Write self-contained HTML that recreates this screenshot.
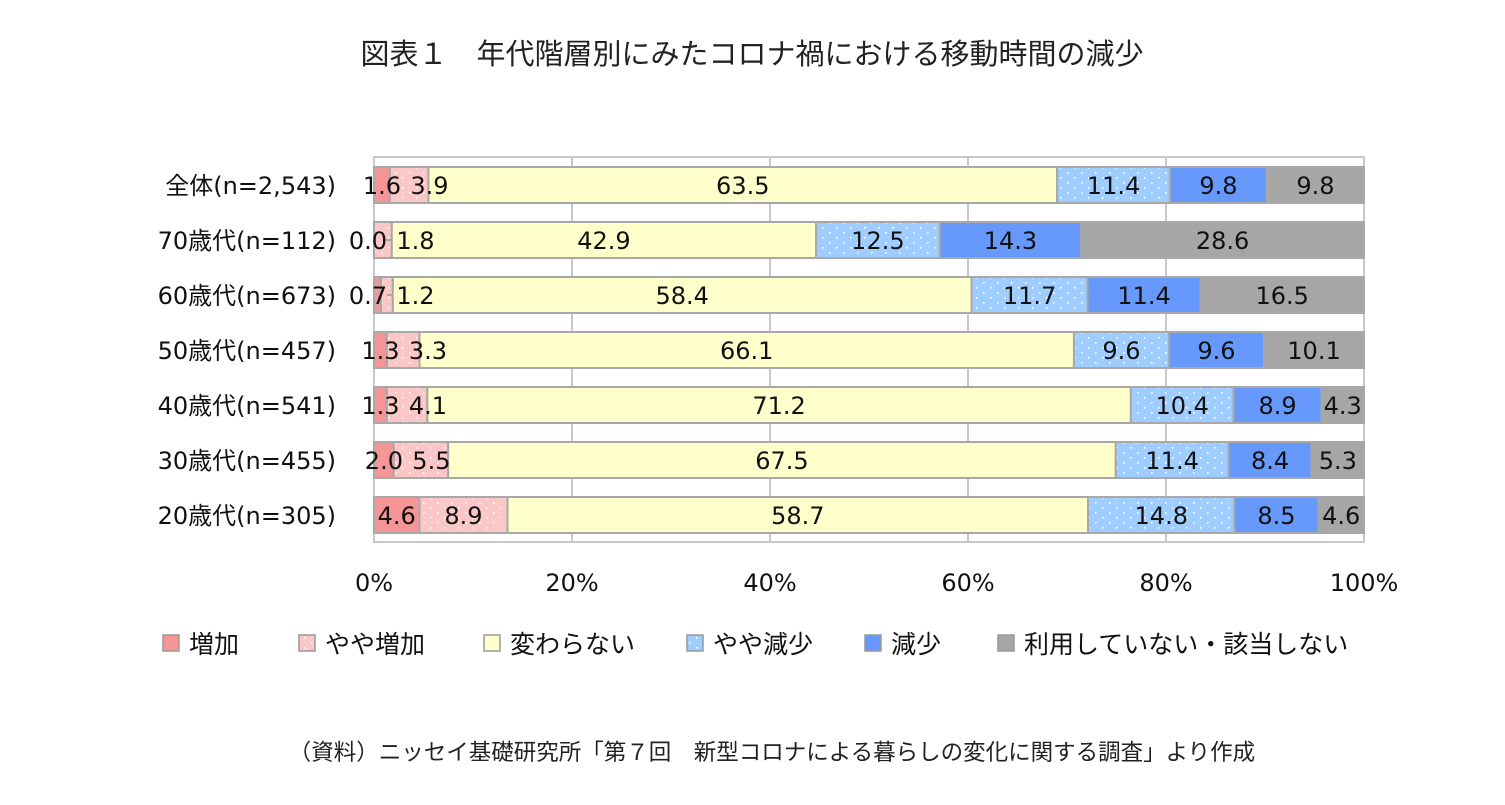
<!DOCTYPE html>
<html><head><meta charset="utf-8">
<style>
body{margin:0;background:#fff;width:1505px;height:805px;overflow:hidden;font-family:"Liberation Sans","Noto Sans CJK JP",sans-serif;}
svg{display:block}
</style></head>
<body>
<svg id="chart" width="1505" height="805" xmlns="http://www.w3.org/2000/svg" font-family="DejaVu Sans, Noto Sans CJK JP, sans-serif">
<text x="752" y="64" text-anchor="middle" font-size="29" fill="#222" font-family="Noto Sans CJK JP, sans-serif">図表１　年代階層別にみたコロナ禍における移動時間の減少</text>
<text x="772" y="760" text-anchor="middle" font-size="22.5" fill="#222" font-family="Noto Sans CJK JP, sans-serif">（資料）ニッセイ基礎研究所「第７回　新型コロナによる暮らしの変化に関する調査」より作成</text>
<g id="plot"></g>
<g id="labels"></g>
<g id="legend"></g>
</svg>
<script>
const categories=["全体(n=2,543)","70歳代(n=112)","60歳代(n=673)","50歳代(n=457)","40歳代(n=541)","30歳代(n=455)","20歳代(n=305)"];
const seriesNames=["増加","やや増加","変わらない","やや減少","減少","利用していない・該当しない"];
const increase=[1.6,0.0,0.7,1.3,1.3,2.0,4.6];
const slightIncrease=[3.9,1.8,1.2,3.3,4.1,5.5,8.9];
const unchanged=[63.5,42.9,58.4,66.1,71.2,67.5,58.7];
const slightDecrease=[11.4,12.5,11.7,9.6,10.4,11.4,14.8];
const decrease=[9.8,14.3,11.4,9.6,8.9,8.4,8.5];
const notApplicable=[9.8,28.6,16.5,10.1,4.3,5.3,4.6];
const xTicks=["0%","20%","40%","60%","80%","100%"];

const series=[increase,slightIncrease,unchanged,slightDecrease,decrease,notApplicable];
const colors=["#f59595","#fbc6c6","#ffffcc","#9fcdff","#6699fb","#a6a6a6"];
const NS="http://www.w3.org/2000/svg";
const X0=374,X1=1364,TOP=157,BOT=542,ROW=55,BH=36;
const xs=p=>X0+(X1-X0)*p/100;
const yc=i=>185+i*ROW;
const plot=document.getElementById('plot');
const labels=document.getElementById('labels');
function mk(tag,attrs,parent){const e=document.createElementNS(NS,tag);for(const k in attrs)e.setAttribute(k,attrs[k]);parent.appendChild(e);return e;}
const defs=mk('defs',{},document.getElementById('chart'));
[1,3].forEach(k=>{const p=mk('pattern',{id:'dots'+k,width:14,height:10,patternUnits:'userSpaceOnUse'},defs);
mk('rect',{width:14,height:10,fill:colors[k]},p);mk('rect',{x:3,y:2,width:1.6,height:1.6,fill:'#fff'},p);mk('rect',{x:10,y:7,width:1.6,height:1.6,fill:'#fff'},p);});
const frame=mk('rect',{x:X0,y:TOP,width:X1-X0,height:BOT-TOP,fill:'none',stroke:'#c8c8c8','stroke-width':2},plot);


xTicks.forEach((t,i)=>{const x=xs(i*20);
 const l=mk('line',{x1:x,x2:x,y1:TOP,y2:BOT,stroke:'#c8c8c8','stroke-width':2},plot);
 
 
 const tx=mk('text',{x:x,y:591,'text-anchor':'middle','font-size':24,fill:'#111'},plot);tx.textContent=t;
 
 });
const CW=14.5;
categories.forEach((c,i)=>{
 const lab=mk('text',{x:336,y:yc(i)+9,'text-anchor':'end','font-size':24,fill:'#111'},plot);lab.textContent=c;
 
 
 let tot=0;series.forEach(s=>tot+=s[i]);
 let cum=0;let prevRight=-1e9;
 series.forEach((s,k)=>{const v=s[i];const a=xs(cum/tot*100),b=xs((cum+v)/tot*100);cum+=v;
  const r=mk('rect',{x:a,y:yc(i)-BH/2,width:Math.max(b-a,0),height:BH,fill:(k==1||k==3)?'url(#dots'+k+')':colors[k],stroke:'#a8a8a8','stroke-width':2},plot);
  
  
  const txt=v.toFixed(1);const w=txt.length*CW;
  let lx=(a+b)/2;
  if(k==0&&v<1)lx=a-6;
  if(lx-w/2<prevRight+4){lx=prevRight+4+w/2;
   if(k==1&&series[0][i]<1)mk('line',{x1:b-6,x2:lx-w/2-2,y1:yc(i),y2:yc(i),stroke:'#999','stroke-width':1.5},labels);}
  prevRight=lx+w/2;
  const t=mk('text',{x:lx,y:yc(i)+9,'text-anchor':'middle','font-size':24,fill:'#111'},labels);
  t.textContent=txt;
  
  
 });
});
const lg=document.getElementById('legend');
const lx=[163,299,484,687,865,998];
seriesNames.forEach((n,k)=>{
 const r=mk('rect',{x:lx[k],y:635,width:16,height:16,fill:(k==1||k==3)?'url(#dots'+k+')':colors[k],stroke:'#999','stroke-width':1.5},lg);
 
 
 const t=mk('text',{x:lx[k]+26,y:653,'font-size':25,fill:'#111','font-family':'Noto Sans CJK JP, sans-serif'},lg);t.textContent=n;
 
 
});
</script>
</body></html>
